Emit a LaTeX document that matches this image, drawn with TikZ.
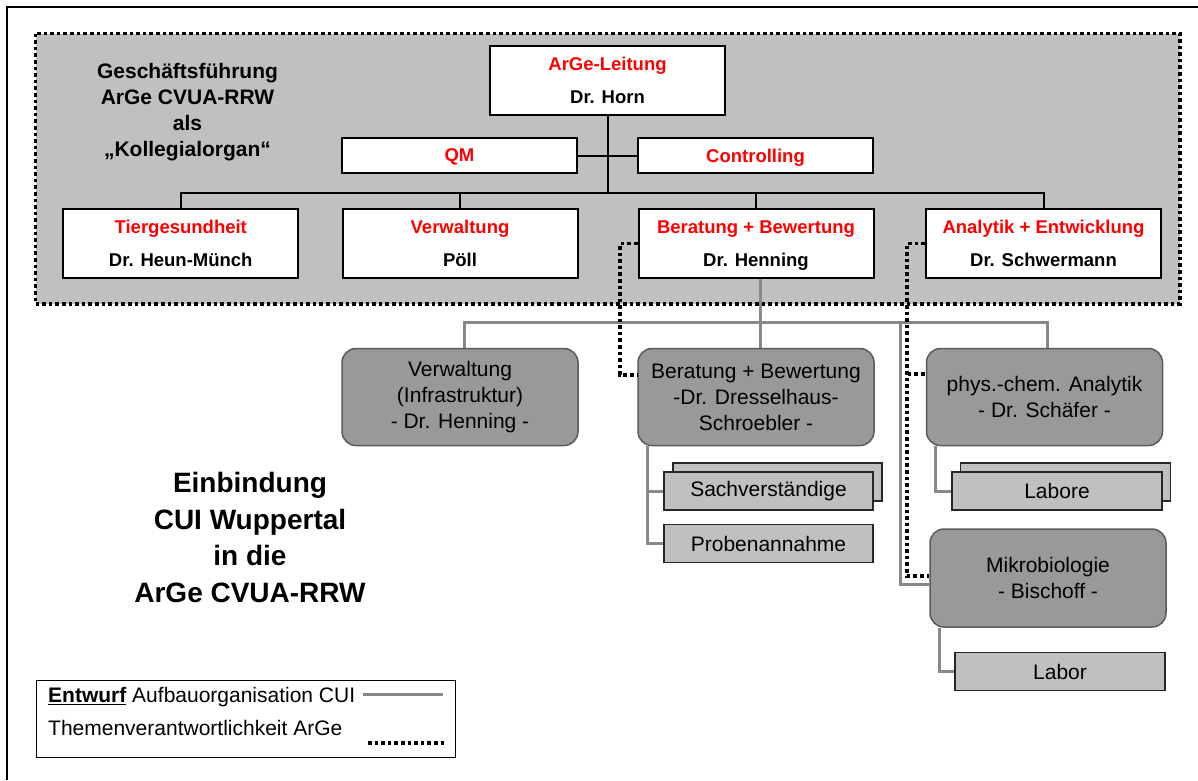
\documentclass[tikz,border=0pt]{standalone}
\usepackage{fontspec}
\setmainfont{Liberation Sans}
\usepackage{tikz}
\usetikzlibrary{positioning}
\definecolor{argegray}{HTML}{C0C0C0}
\definecolor{cuigray}{HTML}{999999}
\definecolor{cuiline}{HTML}{888888}
\definecolor{cuiedge}{HTML}{5A5A5A}
\newcommand\boxfont{\bfseries\fontsize{18.5}{33}\selectfont}
\newcommand\cuifont{\fontsize{21}{26}\selectfont}
\newcommand\gffont{\bfseries\fontsize{21}{26}\selectfont}
\newcommand\titlefont{\bfseries\fontsize{28}{36.5}\selectfont}
\newcommand\rtitle[1]{\textcolor{red}{#1}}
\def \dt {3.6pt}
\tikzstyle{argebox} = [draw,line width=2pt,fill=white,rectangle,minimum width=235pt,minimum height=69pt,inner sep=0,align=center,text depth=0pt,font=\boxfont]
\tikzstyle{staffbox} = [argebox,minimum height=35pt,text=red]
\tikzstyle{cuibox} = [draw=cuiedge,line width=1.5pt,fill=cuigray,rectangle,rounded corners=14pt,minimum width=236pt,minimum height=97pt,inner sep=0,align=center,font=\cuifont]
\tikzstyle{labbox} = [draw=black!85,line width=1.2pt,fill=argegray,rectangle,minimum width=210pt,minimum height=38pt,inner sep=0,font=\cuifont]
\tikzstyle{orgline} = [-,line width=2pt]
\tikzstyle{cuilink} = [-,line width=3pt,cuiline]
\tikzstyle{topicline} = [-,line width=\dt,dash pattern=on \dt off 3pt]

\begin{document}
\begin{tikzpicture}[x=1pt,y=-1pt]
      \useasboundingbox (0,0) rectangle (1198,780);
      \draw[line width=2.5pt] (7,780) -- (7,7) -- (1198,7);
      \draw[topicline,fill=argegray] (35.5,33.5) rectangle (1180,304);
      \node[font=\gffont,align=center] (gf) at (187.5,112) {Geschäftsführung\\ArGe CVUA-RRW\\als\\„Kollegialorgan“};
      \node[argebox] (leitung) at (607.5,80) {\rtitle{ArGe-Leitung}\\Dr. Horn};
      \node[staffbox] (qm) at (459.5,155.5) {QM};
      \node[staffbox] (contr) at (755.5,155.5) {Controlling};
      \node[argebox] (tier) at (180.75,243.5) {\rtitle{Tiergesundheit}\\Dr. Heun-Münch};
      \node[argebox] (verw) at (460,243.5) {\rtitle{Verwaltung}\\Pöll};
      \node[argebox] (berat) at (756,243.5) {\rtitle{Beratung + Bewertung}\\Dr. Henning};
      \node[argebox] (analy) at (1043.5,243.5) {\rtitle{Analytik + Entwicklung}\\Dr. Schwermann};
      \coordinate (bus) at (607.5,193);
      \draw[orgline] (leitung) -- (bus);
      \draw[orgline] (qm) -- (contr);
      \draw[orgline] (tier.north) |- (bus) -| (analy.north);
      \draw[orgline] (verw.north) -- (verw.north |- bus);
      \draw[orgline] (berat.north) -- (berat.north |- bus);
      \node[cuibox] (cverw) at (460,397) {Verwaltung\\(Infrastruktur)\\- Dr. Henning -};
      \node[cuibox] (cberat) at (756,397) {Beratung + Bewertung\\-Dr. Dresselhaus-\\Schroebler -};
      \node[cuibox] (cphys) at (1044.5,397) {phys.-chem. Analytik\\- Dr. Schäfer -};
      \node[cuibox,minimum height=98pt] (cmikro) at (1048,578) {Mikrobiologie\\- Bischoff -};
      \node[labbox,minimum width=209pt] (sachback) at (777.5,482) {};
      \node[labbox,minimum width=209pt] (sach) at (768.5,491) {Sachverständige};
      \node[labbox,minimum width=209pt] (proben) at (768.5,543.5) {Probenannahme};
      \node[labbox] (laboreback) at (1065.5,482) {};
      \node[labbox] (labore) at (1057,491) {Labore};
      \node[labbox] (labor) at (1060,671.5) {Labor};
      \coordinate (cuihub) at (760,322);
      \coordinate (mikrohub) at (900,322);
      \draw[cuilink] ([xshift=4pt]berat.south) -- ([xshift=4pt]cberat.north);
      \draw[cuilink] ([xshift=4pt]cverw.north) |- (cuihub) -| ([xshift=3pt]cphys.north);
      \draw[cuilink] (mikrohub) |- ([yshift=-6pt]cmikro.west);
      \draw[cuilink] ([xshift=-109pt]cberat.south) |- (proben.west);
      \draw[cuilink] ([xshift=-109pt]cberat.south) |- (sach.west);
      \draw[cuilink] ([xshift=-109.5pt]cphys.south) |- (labore.west);
      \draw[cuilink] ([xshift=-109pt]cmikro.south) |- (labor.west);
      \draw[topicline] (berat.west) -| ([xshift=-17pt,yshift=22pt]cberat.west) -- ([yshift=22pt]cberat.west);
      \draw[topicline] (analy.west) -| ([xshift=-22pt,yshift=2pt]cmikro.west) -- ([yshift=2pt]cmikro.west);
      \draw[topicline] ([xshift=-18pt,yshift=23pt]cphys.west) -- ([yshift=23pt]cphys.west);
      \node[font=\titlefont,align=center] (title) at (250,537.5) {Einbindung\\CUI Wuppertal\\in die\\ArGe CVUA-RRW};
      \node[draw,line width=1pt,minimum width=419pt,minimum height=77pt,inner sep=0] (legend) at (245.5,718.5) {};
      \node[font=\cuifont,anchor=west,inner sep=0] (leg1) at (48,697) {\underline{\textbf{Entwurf}} Aufbauorganisation CUI};
      \node[font=\cuifont,anchor=west,inner sep=0] (leg2) at (48,728) {Themenverantwortlichkeit ArGe};
      \coordinate (leg1a) at (363,694);
      \coordinate (leg1b) at (443,694);
      \coordinate (leg2a) at (368,743);
      \coordinate (leg2b) at (447,743);
      \draw[cuilink] (leg1a) -- (leg1b);
      \draw[topicline] (leg2a) -- (leg2b);
    \end{tikzpicture}
\end{document}
